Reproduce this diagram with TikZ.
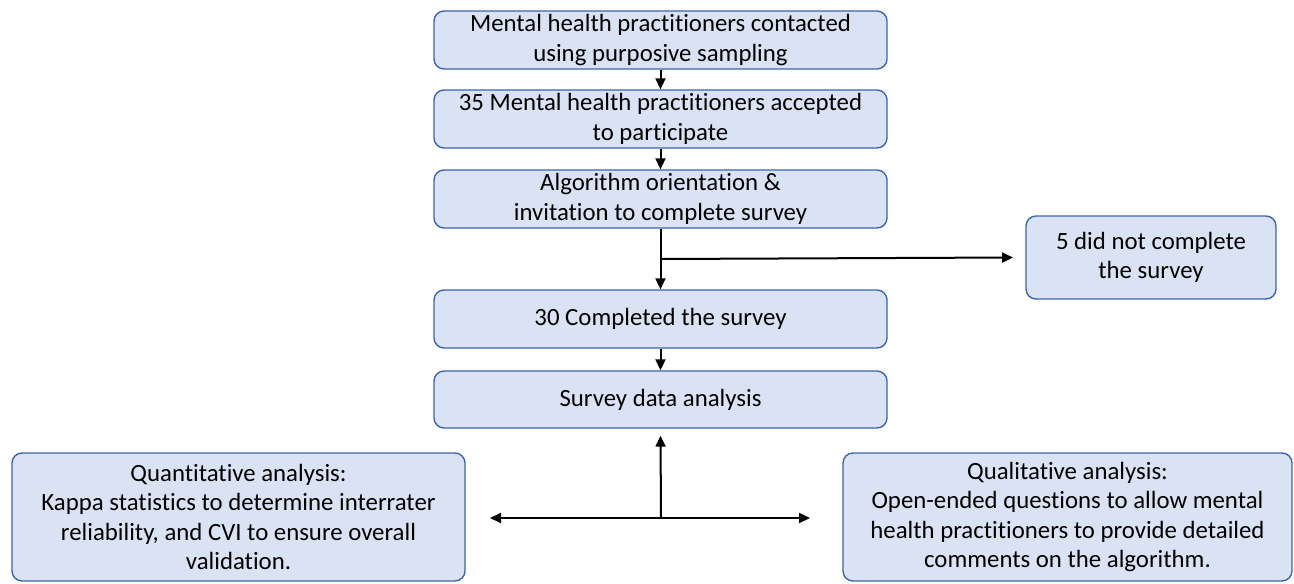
\documentclass[tikz,border=0pt]{standalone}
\usepackage{fontspec}
\setmainfont{Carlito}[Ligatures=NoCommon]
\usetikzlibrary{arrows.meta}
\definecolor{boxfill}{RGB}{218,227,243}
\definecolor{boxline}{RGB}{60,100,175}
\tikzset{
  stage/.style={draw=boxline, fill=boxfill, line width=0.7pt, rounded corners=5pt,
    align=center, font=\fontsize{12.4}{14.8}\selectfont, inner sep=0pt},
  flow/.style={line width=1pt, -{Triangle[length=5.5pt,width=5pt]}}
}
\begin{document}
\begin{tikzpicture}[x=0.5pt, y=-0.5pt]
            \useasboundingbox (0,0) rectangle (1294,583);

            % Caixas principais
            \node[stage, minimum width=226.5pt, minimum height=29pt] (contact) at (660.5,40)
              {Mental health practitioners contacted\\using purposive sampling};
            \node[stage, minimum width=226.5pt, minimum height=29pt] (accept) at (660.5,119)
              {35 Mental health practitioners accepted\\to participate};
            \node[stage, minimum width=226.5pt, minimum height=29pt] (orient) at (660.5,199)
              {Algorithm orientation \&\\invitation to complete survey};
            \node[stage, minimum width=226.5pt, minimum height=29pt] (done) at (660.5,319)
              {30 Completed the survey};
            \node[stage, minimum width=226.5pt, minimum height=28.5pt] (data) at (660.5,399.5)
              {Survey data analysis};

            % Caixa lateral
            \node[stage, minimum width=125pt, minimum height=41.5pt] (drop) at (1151,257.5)
              {5 did not complete\\the survey};

            % Analises
            \node[stage, minimum width=226.5pt, minimum height=64pt] (quant) at (238.5,517)
              {Quantitative analysis:\\Kappa statistics to determine interrater\\reliability, and CVI to ensure overall\\validation.};
            \node[stage, minimum width=224.5pt, minimum height=64pt] (qual) at (1067.5,517)
              {Qualitative analysis:\\Open-ended questions to allow mental\\health practitioners to provide detailed\\comments on the algorithm.};

            % Setas
            \draw[flow] (contact) -- (accept);
            \draw[flow] (accept) -- (orient);
            \draw[flow] (orient) -- (done);
            \draw[flow] (done) -- (data);
            \coordinate (split) at (661,259);
            \draw[flow] (split) -- (drop.west -| 1013,0);

            % Ramo inferior
            \coordinate (hub) at (661,518);
            \coordinate (leftend) at (490,518);
            \coordinate (rightend) at (810,518);
            \draw[flow] (hub) -- ([yshift=-3.5pt]data.south);
            \draw[flow, {Triangle[length=5.5pt,width=5pt]}-{Triangle[length=5.5pt,width=5pt]}] (leftend) -- (rightend);
        \end{tikzpicture}
\end{document}
